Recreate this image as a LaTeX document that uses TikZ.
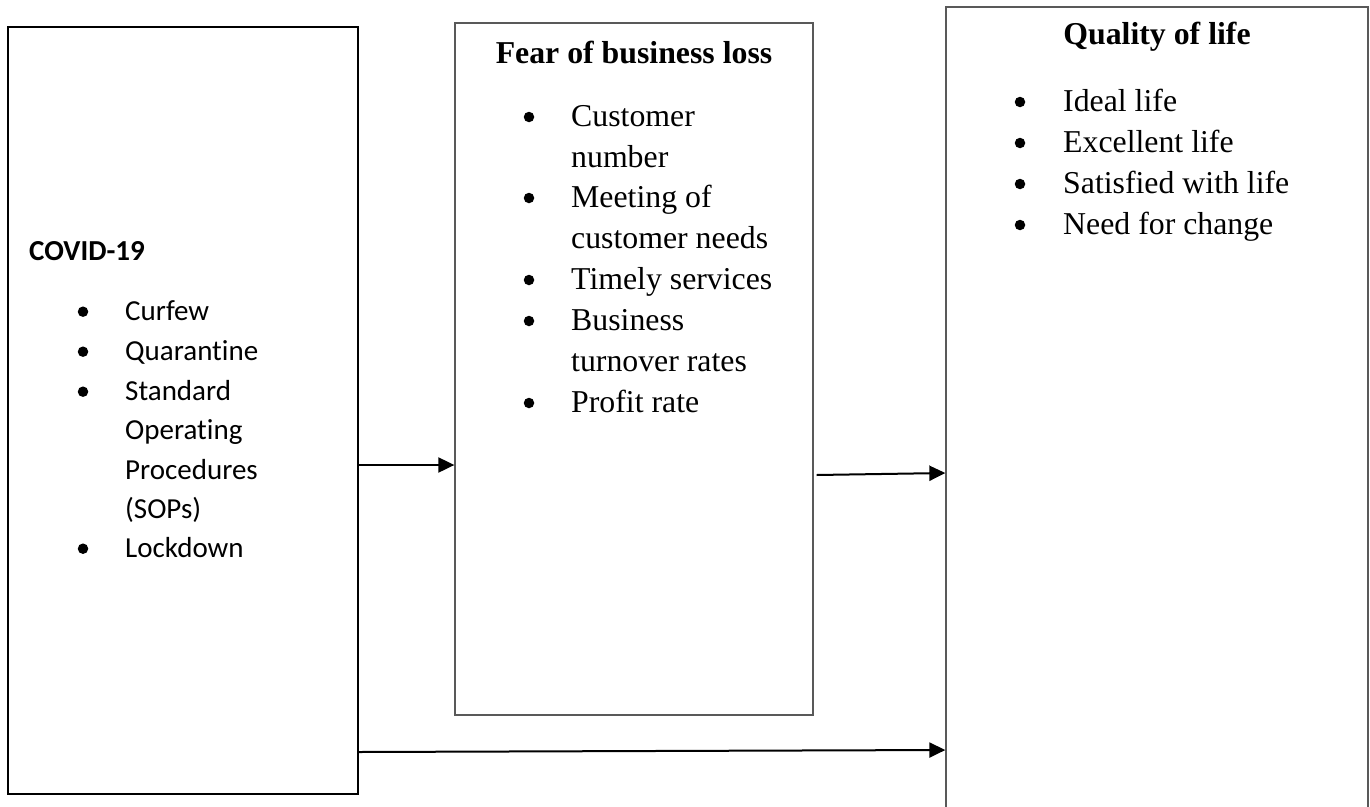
\documentclass[tikz,border=0pt]{standalone}
\usepackage{fontspec}
\setmainfont{Liberation Serif}
\newfontfamily\calibri[Ligatures=NoCommon]{Carlito}
\usetikzlibrary{arrows.meta}
\usetikzlibrary{positioning}

\tikzset{
    box/.style={draw, rectangle, inner sep=0pt},
    flow/.style={-{Triangle[length=16pt,width=15pt]}, line width=2pt},
    serif/.style={font=\fontsize{31.8}{41}\selectfont, inner sep=0pt},
    sans/.style={font=\calibri\fontsize{29}{39.5}\selectfont, inner sep=0pt},
    dot/.style={circle, fill, inner sep=0pt, minimum size=#1},
    dot/.default=10.5pt,
}

\begin{document}
\begin{tikzpicture}[x=1pt, y=-1pt]
    \useasboundingbox (0,0) rectangle (1370,806);

    % the three boxes
    \node [box, line width=2pt, minimum width=350pt, minimum height=767pt] (covid) at (183,410.5) {};
    \node [box, draw=black!65, line width=1.3pt, minimum width=358pt, minimum height=692pt] (fear) at (634,369) {};
    \node [box, draw=black!65, line width=1.3pt, minimum width=422pt, minimum height=830pt] (qol) at (1157,422) {};

    % COVID-19
    \node [sans, anchor=base west] (covid-title) at (29,260) {\bfseries COVID-19};
    \foreach \y/\t [count=\i] in {320/Curfew, 360/Quarantine, 400/Standard, 439.5/Operating,
                                  479/Procedures, 518/{(SOPs)}, 557/Lockdown}
        \node [sans, anchor=base west] (covid-\i) at (125,\y) {\t};
    \foreach \y [count=\i] in {320,360,400,557}
        \node [dot=10.5pt] (covid-dot-\i) at (83,\y-8.3) {};

    % Fear of business loss
    \node [serif, anchor=base] (fear-title) at (634,63) {\bfseries Fear of business loss};
    \foreach \y/\t [count=\i] in {126/Customer, 167/number, 207/Meeting of, 248/customer needs,
                                  289/Timely services, 330/Business, 371/turnover rates, 412/Profit rate}
        \node [serif, anchor=base west] (fear-\i) at (571,\y) {\t};
    \foreach \y [count=\i] in {126,207,289,330,412}
        \node [dot] (fear-dot-\i) at (529,\y-9) {};

    % Quality of life
    \node [serif, anchor=base] (qol-title) at (1157,44) {\bfseries Quality of life};
    \foreach \y/\t [count=\i] in {111/Ideal life, 152/Excellent life, 193/Satisfied with life, 234/Need for change} {
        \node [serif, anchor=base west] (qol-\i) at (1063,\y) {\t};
        \node [dot] (qol-dot-\i) at (1020,\y-9) {};
    }

    % links
    \draw [flow] (covid.east |- 0,465) -- (fear.west |- 0,465);
    \draw [flow] ([xshift=3pt]fear.east |- 0,475) -- (qol.west |- 0,473);
    \draw [flow] (covid.east |- 0,752) -- (qol.west |- 0,750);
\end{tikzpicture}
\end{document}
